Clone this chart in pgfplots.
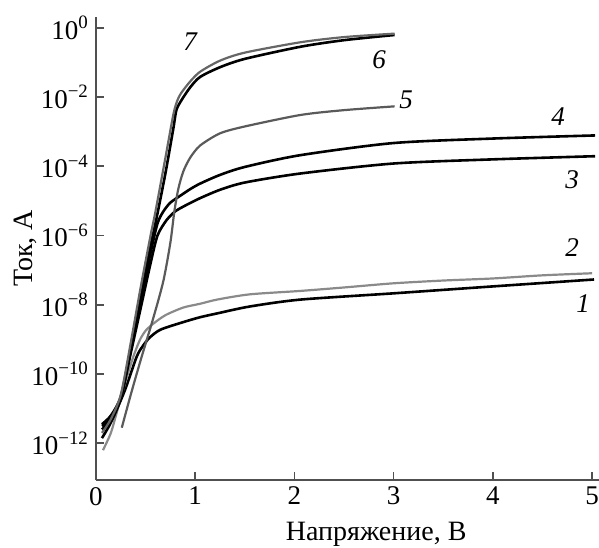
\documentclass[border=0pt]{standalone}
\usepackage{fontspec}
\setmainfont{Liberation Serif}
\usepackage{pgfplots}
\pgfplotsset{compat=1.18}

\definecolor{gA}{HTML}{8A8A8A}
\definecolor{gB}{HTML}{5A5A5A}
\definecolor{gC}{HTML}{666666}
\definecolor{axc}{HTML}{505050}

\begin{document}
\begin{tikzpicture}
\useasboundingbox (-48pt,-33.5pt) rectangle (251.5pt,240pt);
\begin{axis}[
    at={(0,0)}, anchor=south west,
    scale only axis,
    width=251.5pt, height=231.5pt,
    ymode=log,
    xmin=0, xmax=5.07,
    ymin=8.7e-14, ymax=2.04,
    axis lines=left,
    axis line style={-, draw=axc, line width=0.9pt},
    tick align=inside,
    major tick length=4pt,
    tick style={draw=axc, line width=0.8pt},
    minor tick num=0,
    xtick={0,1,2,3,4,5},
    xticklabels={0,1,2,3,4,5},
    ytick={1e-12,1e-10,1e-8,1e-6,1e-4,1e-2,1},
    yticklabels={10\textsuperscript{−12},10\textsuperscript{−10},10\textsuperscript{−8},10\textsuperscript{−6},10\textsuperscript{−4},10\textsuperscript{−2},10\textsuperscript{0}},
    yminorticks=false,
    ticklabel style={font=\fontsize{13.5}{16}\selectfont},
    xlabel={Напряжение, В},
    ylabel={Ток, А},
    label style={font=\fontsize{14}{16}\selectfont},
    xlabel style={at={(axis description cs:0.557,-0.131)}, anchor=base},
    ylabel style={at={(axis description cs:-0.127,0.5)}, anchor=base},
    every axis plot/.append style={smooth, tension=0.45},
    clip=false,
]
% 1
\addplot[black, line width=1.3pt] coordinates {
(0.06,3.16e-12) (0.15,5.01e-12) (0.22,1.12e-11) (0.30,3.98e-11) (0.41,3.16e-10)
(0.47,6.31e-10) (0.54,1.12e-9) (0.65,1.91e-9) (0.88,3.16e-9) (1.05,4.37e-9)
(1.22,5.62e-9) (1.55,8.91e-9) (2.06,1.41e-8) (3.0,2.14e-8) (4.0,3.39e-8) (5.02,5.37e-8)
};
% 2
\addplot[gA, line width=1.1pt] coordinates {
(0.07,6.31e-13) (0.15,2.0e-12) (0.22,1.0e-11) (0.30,6.31e-11) (0.37,2.82e-10)
(0.44,9.33e-10) (0.50,1.78e-9) (0.58,2.88e-9) (0.70,5.01e-9) (0.88,8.32e-9)
(1.05,1.07e-8) (1.22,1.41e-8) (1.55,2.0e-8) (2.06,2.51e-8) (2.5,3.16e-8)
(3.0,4.17e-8) (3.5,5.01e-8) (4.0,5.75e-8) (4.5,7.08e-8) (5.0,8.13e-8)
};
% 3
\addplot[black, line width=1.3pt] coordinates {
(0.06,2.51e-12) (0.15,5.01e-12) (0.25,2.0e-11) (0.35,3.98e-10) (0.45,7.94e-9)
(0.55,1.58e-7) (0.62,1.0e-6) (0.71,2.75e-6) (0.80,5.01e-6) (0.91,7.59e-6)
(1.05,1.20e-5) (1.25,2.09e-5) (1.5,3.39e-5) (2.06,6.17e-5) (3.0,1.20e-4)
(4.0,1.58e-4) (5.03,1.95e-4)
};
% 4
\addplot[black, line width=1.3pt] coordinates {
(0.06,3.55e-12) (0.15,6.31e-12) (0.25,2.24e-11) (0.35,5.01e-10) (0.45,1.26e-8)
(0.55,3.16e-7) (0.62,2.24e-6) (0.68,5.01e-6) (0.75,8.91e-6) (0.85,1.41e-5)
(0.95,2.19e-5) (1.05,3.16e-5) (1.25,5.62e-5) (1.5,9.55e-5) (2.06,2.09e-4)
(3.0,4.68e-4) (4.0,6.31e-4) (5.03,7.76e-4)
};
% 5
\addplot[gB, line width=1.1pt] coordinates {
(0.26,2.82e-12) (0.35,2.51e-11) (0.45,2.51e-10) (0.58,4.37e-9) (0.68,5.01e-8)
(0.75,6.31e-7) (0.79,5.01e-6) (0.83,2.24e-5) (0.88,7.08e-5) (0.95,1.78e-4)
(1.05,3.98e-4) (1.25,8.91e-4) (1.5,1.41e-3) (2.06,3.02e-3) (2.5,4.17e-3) (3.01,5.37e-3)
};
% 6
\addplot[black, line width=1.3pt] coordinates {
(0.06,1.41e-12) (0.15,3.98e-12) (0.25,2.0e-11) (0.35,5.01e-10) (0.45,1.78e-8)
(0.55,5.01e-7) (0.61,3.16e-6) (0.70,6.31e-5) (0.78,1.26e-3) (0.81,4.17e-3)
(0.86,7.94e-3) (0.95,1.91e-2) (1.05,3.80e-2) (1.25,7.24e-2) (1.5,0.126)
(2.06,0.282) (2.5,0.437) (3.01,0.617)
};
% 7
\addplot[gC, line width=1.1pt] coordinates {
(0.06,2.0e-12) (0.15,5.01e-12) (0.25,2.51e-11) (0.35,7.94e-10) (0.45,3.16e-8)
(0.55,1.0e-6) (0.60,5.01e-6) (0.70,1.78e-4) (0.78,3.16e-3) (0.82,7.94e-3)
(0.86,1.32e-2) (0.95,2.82e-2) (1.05,5.37e-2) (1.25,0.112) (1.5,0.191)
(2.06,0.38) (2.5,0.537) (3.01,0.676)
};

\begin{scope}[every node/.style={font=\fontsize{13.5}{16}\selectfont\itshape}]
\node at (axis cs:0.948,0.389) {7};
\node at (axis cs:2.853,0.1164) {6};
\node at (axis cs:3.125,8.13e-3) {5};
\node at (axis cs:4.657,2.63e-3) {4};
\node at (axis cs:4.798,3.98e-5) {3};
\node at (axis cs:4.798,4.57e-7) {2};
\node at (axis cs:4.91,1.10e-8) {1};
\end{scope}
\end{axis}
\end{tikzpicture}
\end{document}
